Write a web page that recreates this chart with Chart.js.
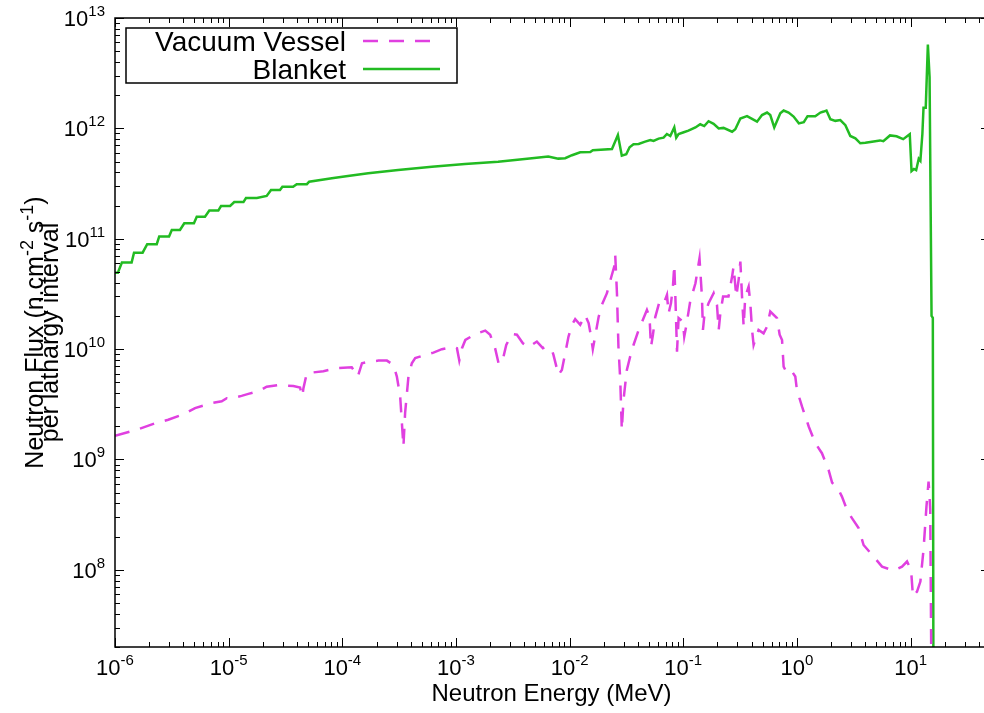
<!DOCTYPE html>
<html>
<head>
<meta charset="utf-8">
<script src="https://cdn.jsdelivr.net/npm/chart.js@4"></script>
<style>
  html, body { margin: 0; padding: 0; background: #fff; overflow: hidden; }
  #wrap { width: 1000px; height: 713px; }
</style>
</head>
<body>
<div id="wrap"><canvas id="flux" width="1000" height="713"></canvas></div>
<script>
// Neutron flux per lethargy interval (energy in MeV)
const vesselEnergy = [
  1.00e-6, 1.60e-6, 2.25e-6, 2.94e-6, 3.99e-6, 5.06e-6, 7.10e-6, 8.69e-6, 9.62e-6, 1.03e-5,
  1.30e-5, 1.49e-5, 1.89e-5, 2.16e-5, 2.74e-5, 3.71e-5, 4.25e-5, 4.45e-5, 4.55e-5, 4.87e-5,
  6.82e-5, 8.65e-5, 1.21e-4, 1.37e-4, 1.49e-4, 1.70e-4, 2.08e-4, 2.47e-4, 2.82e-4, 3.02e-4,
  3.23e-4, 3.45e-4, 3.57e-4, 3.82e-4, 4.09e-4, 4.38e-4, 5.36e-4, 6.34e-4, 7.52e-4, 9.51e-4,
  1.02e-3, 1.07e-3, 1.13e-3, 1.21e-3, 1.48e-3, 1.81e-3, 2.00e-3, 2.21e-3, 2.37e-3, 2.54e-3,
  2.77e-3, 3.10e-3, 3.44e-3, 3.88e-3, 4.35e-3, 5.15e-3, 5.82e-3, 6.10e-3, 6.98e-3, 7.21e-3,
  7.98e-3, 8.55e-3, 9.15e-3, 9.78e-3, 1.05e-2, 1.12e-2, 1.24e-2, 1.37e-2, 1.47e-2, 1.54e-2,
  1.60e-2, 1.68e-2, 1.80e-2, 1.92e-2, 2.13e-2, 2.31e-2, 2.47e-2, 2.52e-2, 2.61e-2, 2.69e-2,
  2.79e-2, 2.88e-2, 2.98e-2, 3.19e-2, 3.41e-2, 3.65e-2, 4.05e-2, 4.48e-2, 4.79e-2, 5.05e-2,
  5.20e-2, 5.41e-2, 5.67e-2, 6.18e-2, 6.71e-2, 7.19e-2, 7.43e-2, 7.80e-2, 8.11e-2, 8.34e-2,
  8.55e-2, 8.81e-2, 9.10e-2, 9.94e-2, 1.02e-1, 1.06e-1, 1.15e-1, 1.28e-1, 1.39e-1, 1.46e-1,
  1.49e-1, 1.53e-1, 1.67e-1, 1.85e-1, 1.98e-1, 2.05e-1, 2.12e-1, 2.24e-1, 2.50e-1, 2.69e-1,
  2.77e-1, 2.93e-1, 3.07e-1, 3.18e-1, 3.29e-1, 3.40e-1, 3.51e-1, 3.76e-1, 3.89e-1, 4.03e-1,
  4.16e-1, 4.60e-1, 5.09e-1, 5.46e-1, 5.83e-1, 6.68e-1, 7.05e-1, 7.40e-1, 7.64e-1, 8.18e-1,
  9.06e-1, 9.68e-1, 1.00, 1.11, 1.27, 1.45, 1.66, 1.90, 2.04, 2.33,
  2.49, 2.76, 3.05, 3.49, 3.86, 4.58, 5.61, 7.10, 8.41, 9.31,
  10.1, 10.5, 11.4, 12.2, 13.0, 13.8, 14.4, 14.7, 14.9, 15.5
];
const vesselFlux = [
  1.64e9, 1.88e9, 2.13e9, 2.29e9, 2.57e9, 2.92e9, 3.24e9, 3.37e9, 3.59e9, 3.56e9,
  3.77e9, 3.93e9, 4.21e9, 4.57e9, 4.71e9, 4.64e9, 4.48e9, 3.72e9, 4.43e9, 6.05e9,
  6.31e9, 6.71e9, 6.86e9, 5.64e9, 7.45e9, 7.66e9, 7.87e9, 7.87e9, 7.19e9, 5.64e9,
  3.72e9, 1.31e9, 2.64e9, 5.64e9, 7.45e9, 8.28e9, 8.86e9, 9.30e9, 9.98e9, 1.05e10,
  1.02e10, 7.87e9, 1.02e10, 1.21e10, 1.37e10, 1.47e10, 1.35e10, 1.02e10, 7.45e9, 7.45e9,
  1.09e10, 1.37e10, 1.35e10, 1.13e10, 1.04e10, 1.17e10, 1.02e10, 1.05e10, 9.84e9, 8.86e9,
  5.84e9, 6.48e9, 9.19e9, 1.30e10, 1.66e10, 1.87e10, 1.66e10, 2.04e10, 1.72e10, 1.32e10,
  9.98e9, 1.32e10, 1.95e10, 2.51e10, 3.21e10, 4.39e10, 5.59e10, 7.13e10, 3.21e10, 1.05e10,
  5.26e9, 1.85e9, 3.47e9, 6.48e9, 8.55e9, 1.09e10, 1.49e10, 1.91e10, 2.26e10, 1.95e10,
  1.05e10, 1.35e10, 1.95e10, 2.69e10, 2.57e10, 3.10e10, 2.11e10, 2.61e10, 3.68e10, 5.79e10,
  2.69e10, 9.49e9, 1.91e10, 1.77e10, 1.30e10, 1.60e10, 2.69e10, 3.95e10, 6.65e10, 2.99e10,
  1.49e10, 1.97e10, 2.61e10, 3.21e10, 2.51e10, 1.49e10, 2.11e10, 2.99e10, 2.99e10, 4.54e10,
  5.59e10, 2.99e10, 4.24e10, 6.20e10, 2.99e10, 1.60e10, 2.99e10, 3.68e10, 2.61e10, 1.49e10,
  1.09e10, 1.49e10, 1.39e10, 1.60e10, 2.19e10, 1.91e10, 1.35e10, 1.21e10, 6.94e9, 6.05e9,
  6.25e9, 5.64e9, 4.27e9, 3.01e9, 1.99e9, 1.41e9, 1.14e9, 8.05e8, 6.18e8, 5.31e8,
  4.61e8, 3.49e8, 2.94e8, 2.39e8, 1.68e8, 1.37e8, 1.07e8, 9.86e7, 1.07e8, 1.19e8,
  1.00e8, 5.73e7, 6.36e7, 7.83e7, 1.52e8, 3.74e8, 6.31e8, 4.61e8, 3.49e8, 1e6
];

const blanketEnergy = [
  1.00e-6, 1.06e-6, 1.15e-6, 1.40e-6, 1.47e-6, 1.75e-6, 1.92e-6, 2.33e-6, 2.45e-6, 2.99e-6,
  3.16e-6, 3.73e-6, 4.07e-6, 4.95e-6, 5.24e-6, 6.19e-6, 6.76e-6, 8.11e-6, 8.57e-6, 1.03e-5,
  1.12e-5, 1.35e-5, 1.42e-5, 1.77e-5, 2.16e-5, 2.36e-5, 2.83e-5, 2.97e-5, 3.69e-5, 3.97e-5,
  4.88e-5, 5.11e-5, 8.09e-5, 1.12e-4, 1.69e-4, 3.10e-4, 6.14e-4, 1.20e-3, 2.35e-3, 4.66e-3,
  6.49e-3, 7.94e-3, 9.14e-3, 1.05e-2, 1.24e-2, 1.52e-2, 1.60e-2, 2.36e-2, 2.66e-2, 2.88e-2,
  3.15e-2, 3.37e-2, 3.65e-2, 4.05e-2, 4.62e-2, 5.13e-2, 5.48e-2, 6.07e-2, 6.71e-2, 7.18e-2,
  7.69e-2, 8.34e-2, 8.67e-2, 9.10e-2, 1.01e-1, 1.11e-1, 1.28e-1, 1.41e-1, 1.53e-1, 1.67e-1,
  1.85e-1, 2.05e-1, 2.26e-1, 2.69e-1, 2.87e-1, 3.18e-1, 3.64e-1, 4.46e-1, 4.93e-1, 5.46e-1,
  5.83e-1, 6.32e-1, 7.14e-1, 7.64e-1, 8.45e-1, 9.35e-1, 1.04, 1.15, 1.24, 1.45,
  1.61, 1.72, 1.82, 1.97, 2.18, 2.41, 2.67, 2.95, 3.27, 3.61,
  4.00, 4.43, 5.38, 5.76, 6.59, 7.53, 8.61, 9.84, 10.2, 10.7,
  11.2, 11.8, 12.2, 12.7, 13.0, 13.6, 14.2, 14.7, 15.3, 15.7, 15.95
];
const blanketFlux = [
  4.93e10, 4.93e10, 6.08e10, 6.08e10, 7.48e10, 7.48e10, 8.93e10, 8.93e10, 1.05e11, 1.05e11,
  1.20e11, 1.20e11, 1.38e11, 1.38e11, 1.58e11, 1.58e11, 1.80e11, 1.80e11, 1.98e11, 1.98e11,
  2.15e11, 2.15e11, 2.34e11, 2.34e11, 2.44e11, 2.77e11, 2.77e11, 2.96e11, 2.96e11, 3.12e11,
  3.12e11, 3.29e11, 3.53e11, 3.71e11, 3.92e11, 4.20e11, 4.50e11, 4.76e11, 4.99e11, 5.36e11,
  5.55e11, 5.32e11, 5.36e11, 5.71e11, 6.08e11, 6.11e11, 6.34e11, 6.50e11, 8.71e11, 5.66e11,
  5.82e11, 6.74e11, 7.18e11, 7.22e11, 7.58e11, 7.85e11, 7.69e11, 8.07e11, 8.24e11, 8.89e11,
  8.53e11, 1.02e12, 8.24e11, 8.89e11, 9.22e11, 9.53e11, 1.02e12, 1.09e12, 1.05e12, 1.16e12,
  1.10e12, 1.00e12, 1.01e12, 9.33e11, 9.82e11, 1.23e12, 1.29e12, 1.15e12, 1.32e12, 1.39e12,
  1.32e12, 1.02e12, 1.37e12, 1.45e12, 1.39e12, 1.28e12, 1.11e12, 1.14e12, 1.29e12, 1.29e12,
  1.39e12, 1.42e12, 1.45e12, 1.21e12, 1.17e12, 1.19e12, 1.07e12, 8.53e11, 8.13e11, 7.33e11,
  7.41e11, 7.53e11, 7.78e11, 7.66e11, 8.63e11, 8.47e11, 7.98e11, 8.85e11, 4.11e11, 4.29e11,
  4.18e11, 5.31e11, 5.09e11, 8.85e11, 1.54e12, 1.54e12, 5.75e12, 2.92e12, 2.00e10, 1.92e10, 1e6
];

const xDecades = [-6, -5, -4, -3, -2, -1, 0, 1];
const yDecades = [8, 9, 10, 11, 12, 13];
const xMin = 1e-6, xMax = 50;
const yMin = 2e7, yMax = 1e13;

const FONT = 'Arial, "Liberation Sans", sans-serif';
const VESSEL_COLOR = '#e040e0';
const BLANKET_COLOR = '#22bb22';

function toPoints(xs, ys) {
  return xs.map((x, i) => ({ x, y: ys[i] }));
}

// draw a list of text runs ({t, sup}) centred on cx, baseline y
function drawRuns(ctx, runs, cx, y, size, supSize, raise) {
  let total = 0;
  runs.forEach((r) => {
    ctx.font = (r.sup ? supSize : size) + 'px ' + FONT;
    r.w = ctx.measureText(r.t).width;
    total += r.w;
  });
  let x = cx - total / 2;
  ctx.textAlign = 'left';
  runs.forEach((r) => {
    ctx.font = (r.sup ? supSize : size) + 'px ' + FONT;
    ctx.fillText(r.t, x, r.sup ? y - raise : y);
    x += r.w;
  });
  return total;
}

function drawPower(ctx, exp, x, y, align) {
  ctx.font = '22px ' + FONT;
  const wb = ctx.measureText('10').width;
  ctx.font = '15px ' + FONT;
  const we = ctx.measureText(exp).width;
  const x0 = align === 'center' ? x - (wb + we) / 2 : x - (wb + we);
  ctx.textAlign = 'left';
  ctx.font = '22px ' + FONT;
  ctx.fillText('10', x0, y);
  ctx.font = '15px ' + FONT;
  ctx.fillText(exp, x0 + wb, y - 10);
}

const frame = {
  id: 'frame',
  afterDraw(chart) {
    const { ctx, chartArea: a, scales } = chart;
    const xs = scales.x, ys = scales.y;
    ctx.save();
    ctx.strokeStyle = '#000';
    ctx.fillStyle = '#000';
    ctx.lineWidth = 1.5;
    ctx.strokeRect(a.left, a.top, a.right - a.left, a.bottom - a.top);

    // log ticks, pointing inwards on all four sides
    ctx.lineWidth = 1;
    ctx.beginPath();
    xDecades.forEach((d) => {
      for (let m = 1; m <= 9; m++) {
        const v = m * Math.pow(10, d);
        if (v < xMin || v > xMax) continue;
        const px = Math.round(xs.getPixelForValue(v)) + 0.5;
        const len = m === 1 ? 9 : 5;
        ctx.moveTo(px, a.bottom); ctx.lineTo(px, a.bottom - len);
        ctx.moveTo(px, a.top); ctx.lineTo(px, a.top + len);
      }
    });
    [7].concat(yDecades).forEach((d) => {
      for (let m = 1; m <= 9; m++) {
        const v = m * Math.pow(10, d);
        if (v < yMin || v > yMax) continue;
        const py = Math.round(ys.getPixelForValue(v)) + 0.5;
        const len = m === 1 ? 9 : 5;
        ctx.moveTo(a.left, py); ctx.lineTo(a.left + len, py);
        ctx.moveTo(a.right, py); ctx.lineTo(a.right - len, py);
      }
    });
    ctx.stroke();

    // tick labels
    xDecades.forEach((d) => {
      drawPower(ctx, String(d), xs.getPixelForValue(Math.pow(10, d)), a.bottom + 28, 'center');
    });
    yDecades.forEach((d) => {
      drawPower(ctx, String(d), a.left - 10, ys.getPixelForValue(Math.pow(10, d)) + 8, 'right');
    });

    // axis titles
    ctx.font = '24px ' + FONT;
    ctx.textAlign = 'center';
    ctx.fillText('Neutron Energy (MeV)', (a.left + a.right) / 2 - 1, 701);

    ctx.save();
    ctx.translate(43, (a.top + a.bottom) / 2);
    ctx.rotate(-Math.PI / 2);
    drawRuns(ctx, [
      { t: 'Neutron Flux (n.cm' }, { t: '-2', sup: true }, { t: ' s' }, { t: '-1', sup: true }, { t: ')' }
    ], 0, 0, 25, 18, 10);
    ctx.font = '25px ' + FONT;
    ctx.textAlign = 'center';
    ctx.fillText('per lathargy interval', 0, 15);
    ctx.restore();

    // legend box
    ctx.lineWidth = 1.5;
    ctx.strokeRect(126, 28, 331, 55);
    ctx.font = '28px ' + FONT;
    ctx.textAlign = 'right';
    ctx.fillText('Vacuum Vessel', 346, 51);
    ctx.fillText('Blanket', 346, 79);
    ctx.lineWidth = 2.5;
    ctx.strokeStyle = VESSEL_COLOR;
    ctx.setLineDash([15, 11]);
    ctx.beginPath(); ctx.moveTo(363, 41); ctx.lineTo(441, 41); ctx.stroke();
    ctx.setLineDash([]);
    ctx.strokeStyle = BLANKET_COLOR;
    ctx.beginPath(); ctx.moveTo(363, 69); ctx.lineTo(440, 69); ctx.stroke();
    ctx.restore();
  }
};

new Chart(document.getElementById('flux'), {
  type: 'line',
  data: {
    datasets: [
      {
        label: 'Vacuum Vessel',
        data: toPoints(vesselEnergy, vesselFlux),
        borderColor: VESSEL_COLOR,
        borderWidth: 2.5,
        borderDash: [15, 11],
        pointRadius: 0,
        tension: 0,
        fill: false
      },
      {
        label: 'Blanket',
        data: toPoints(blanketEnergy, blanketFlux),
        borderColor: BLANKET_COLOR,
        borderWidth: 2.5,
        pointRadius: 0,
        tension: 0,
        fill: false
      }
    ]
  },
  options: {
    responsive: false,
    animation: false,
    layout: { padding: { left: 115, top: 18, right: 10, bottom: 66 } },
    plugins: { legend: { display: false }, tooltip: { enabled: false } },
    scales: {
      x: { type: 'logarithmic', min: xMin, max: xMax, display: false },
      y: { type: 'logarithmic', min: yMin, max: yMax, display: false }
    }
  },
  plugins: [frame]
});
</script>
</body>
</html>
